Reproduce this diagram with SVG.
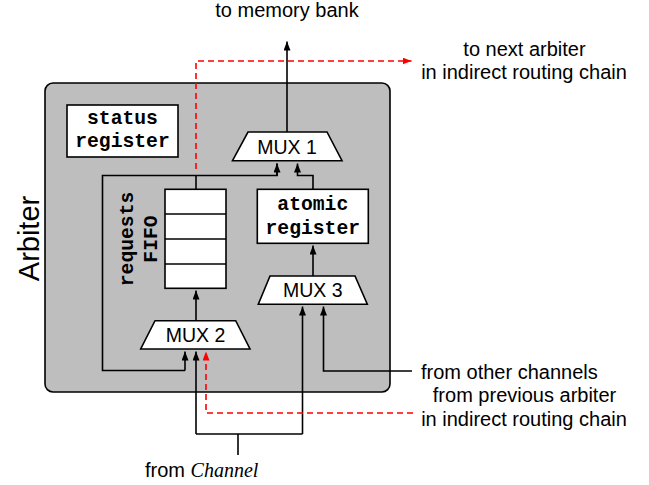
<svg xmlns="http://www.w3.org/2000/svg" width="649" height="485" viewBox="0 0 649 485">
  <style>
    .box { fill: #ffffff; stroke: #000000; stroke-width: 1.6; }
    .frame { fill: #bebebe; stroke: #000000; stroke-width: 1.6; }
    .wire { fill: none; stroke: #000000; stroke-width: 1.6; }
    .wire-red { fill: none; stroke: #ff0000; stroke-width: 1.6; stroke-dasharray: 6 4; }
    .sans { font-family: "Liberation Sans", Arial, sans-serif; fill: #000000; }
    .mono { font-family: "Liberation Mono", "Courier New", monospace; font-weight: bold; font-size: 19.7px; fill: #000000; text-anchor: middle; }
    .lbl { font-size: 20px; }
    .mux-lbl { font-size: 19.5px; text-anchor: middle; }
  </style>
  <defs>
    <marker id="arrow" viewBox="0 0 9 7" refX="9" refY="3.5" markerWidth="9" markerHeight="7" markerUnits="userSpaceOnUse" orient="auto">
      <path d="M0,0 L9,3.5 L0,7 z" fill="#000000"/>
    </marker>
    <marker id="arrow-red" viewBox="0 0 9 7" refX="9" refY="3.5" markerWidth="9" markerHeight="7" markerUnits="userSpaceOnUse" orient="auto">
      <path d="M0,0 L9,3.5 L0,7 z" fill="#ff0000"/>
    </marker>
  </defs>

  <!-- Arbiter enclosure -->
  <g id="arbiter">
    <rect class="frame" x="45" y="83" width="345" height="309" rx="8" ry="8"/>
    <text class="sans" font-size="29" text-anchor="middle" transform="translate(38.5,238.5) rotate(-90)">Arbiter</text>
  </g>

  <!-- Status register -->
  <g id="status-register">
    <rect class="box" x="67" y="105" width="111" height="52"/>
    <text class="mono" x="122.5" y="123.5">status</text>
    <text class="mono" x="122.5" y="147">register</text>
  </g>

  <!-- Requests FIFO -->
  <g id="requests-fifo">
    <rect class="box" x="165" y="189.3" width="61" height="99"/>
    <line class="wire" x1="165" y1="214" x2="226" y2="214"/>
    <line class="wire" x1="165" y1="239" x2="226" y2="239"/>
    <line class="wire" x1="165" y1="264" x2="226" y2="264"/>
    <text class="mono" transform="translate(133,239) rotate(-90)">requests</text>
    <text class="mono" transform="translate(156.5,239) rotate(-90)">FIFO</text>
  </g>

  <!-- Atomic register -->
  <g id="atomic-register">
    <rect class="box" x="257.3" y="189.3" width="111" height="54"/>
    <text class="mono" x="312.8" y="210">atomic</text>
    <text class="mono" x="312.8" y="234">register</text>
  </g>

  <!-- Multiplexers -->
  <g id="mux1">
    <polygon class="box" points="248,132 327,132 342,160.7 232.5,160.7"/>
    <text class="sans mux-lbl" x="287" y="154">MUX 1</text>
  </g>
  <g id="mux2">
    <polygon class="box" points="155,320.7 235.7,320.7 250,349 140.7,349"/>
    <text class="sans mux-lbl" x="195.5" y="342">MUX 2</text>
  </g>
  <g id="mux3">
    <polygon class="box" points="270,276 355,276 367.3,304.3 258.3,304.3"/>
    <text class="sans mux-lbl" x="312.8" y="296.5">MUX 3</text>
  </g>

  <!-- Connectors -->
  <g id="connectors">
    <!-- MUX 1 to memory bank -->
    <path class="wire" d="M287,132 L287,41.5" marker-end="url(#arrow)"/>
    <!-- FIFO output and feedback loop into MUX 1 / MUX 2 -->
    <path class="wire" d="M185,370.5 L102.5,370.5 L102.5,175.5 L277,175.5 L277,163.5" />
    <path class="wire" d="M277,176 L277,163.5" marker-end="url(#arrow)"/>
    <path class="wire" d="M185,370.5 L185,351.5" marker-end="url(#arrow)"/>
    <path class="wire" d="M196,189.3 L196,175.5"/>
    <!-- Atomic register to MUX 1 -->
    <path class="wire" d="M313,189.3 L313,175.5 L297.5,175.5 L297.5,163.5" marker-end="url(#arrow)"/>
    <!-- MUX 3 to atomic register -->
    <path class="wire" d="M313,276 L313,245.5" marker-end="url(#arrow)"/>
    <!-- MUX 2 to FIFO -->
    <path class="wire" d="M196,320.7 L196,290.5" marker-end="url(#arrow)"/>
    <!-- From Channel to MUX 2 and MUX 3 -->
    <path class="wire" d="M238,455 L238,434"/>
    <path class="wire" d="M196,434 L302.5,434"/>
    <path class="wire" d="M196,434 L196,351.5" marker-end="url(#arrow)"/>
    <path class="wire" d="M302.5,434 L302.5,306.5" marker-end="url(#arrow)"/>
    <!-- From other channels to MUX 3 -->
    <path class="wire" d="M412,371 L323.5,371 L323.5,306.5" marker-end="url(#arrow)"/>
    <!-- Indirect routing chain -->
    <path class="wire-red" d="M196,169 L196,61 L411.5,61" marker-end="url(#arrow-red)"/>
    <path class="wire-red" d="M413,413 L206,413 L206,351.5" marker-end="url(#arrow-red)"/>
  </g>

  <!-- External labels -->
  <g id="labels">
    <text class="sans lbl" x="287" y="17.3" text-anchor="middle">to memory bank</text>
    <text class="sans lbl" x="524.5" y="55.7" text-anchor="middle">to next arbiter</text>
    <text class="sans lbl" x="524" y="78.5" text-anchor="middle">in indirect routing chain</text>
    <text class="sans lbl" x="421" y="379">from other channels</text>
    <text class="sans lbl" x="524.5" y="402.3" text-anchor="middle">from previous arbiter</text>
    <text class="sans lbl" x="524" y="425.5" text-anchor="middle">in indirect routing chain</text>
    <text class="sans lbl" x="145" y="477.3">from <tspan font-family="'Liberation Serif', 'Times New Roman', serif" font-style="italic">Channel</tspan></text>
  </g>
</svg>
